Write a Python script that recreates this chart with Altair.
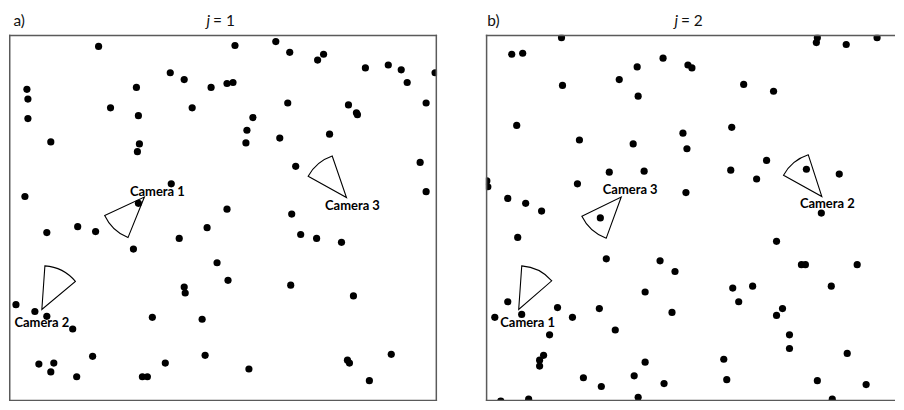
import altair as alt
import pandas as pd

# ---------------- data (panel-relative units, y measured from the top of the frame) --------
DOM_W_A, DOM_W_B, DOM_H = 430, 411, 376      # data extent shown in each panel
W_A, W_B, H = 430, 411, 368                  # plot sizes in px

# Panel a) j = 1 : animal positions
a_x = [90, 227, 268, 282, 310, 316, 358, 381, 394, 400, 428, 18, 19, 19, 162, 176, 128, 203,
       219, 225, 102, 184, 130, 280, 341, 349, 350, 419, 245, 239, 238, 272, 322, 42, 131, 129,
       288, 413, 419, 163, 16, 130, 219, 284, 38, 69, 87, 171, 199, 293, 309, 334, 125, 209,
       220, 176, 177, 283, 346, 7, 26, 38, 64, 144, 194, 30, 45, 42, 68, 84, 134, 139, 157,
       197, 241, 340, 342, 384, 362, 279]
a_y = [12, 11, 7, 18, 26, 20, 34, 31, 36, 49, 39, 56, 66, 86, 39, 46, 54, 54,
       50, 49, 75, 75, 83, 70, 72, 80, 82, 70, 85, 98, 111, 106, 102, 110, 112, 120,
       135, 131, 161, 153, 166, 173, 179, 184, 203, 197, 202, 209, 198, 205, 209, 213, 220, 234,
       252, 259, 265, 257, 268, 277, 284, 289, 302, 290, 292, 338, 337, 346, 351, 330, 351, 351, 337,
       329, 343, 334, 337, 328, 355, 379]

# Panel b) j = 2 : animal positions
b_x = [76, 26, 37, 178, 152, 203, 207, 134, 77, 153, 259, 289, 333, 332, 362, 393, 418, 31,
       94, 148, 198, 202, 247, 282, 246, 272, 322, 355, 124, 159, 92, 201, 1, 2, 22, 40, 56,
       115, 32, 337, 292, 415, 121, 175, 190, 317, 321, 373, 416, 160, 248, 268, 347, 254, 22,
       36, 9, 72, 87, 114, 187, 292, 298, 64, 130, 305, 305, 58, 54, 54, 160, 239, 363, 98,
       116, 149, 179, 242, 333, 382, 15, 43, 153, 348]
b_y = [3, 20, 19, 24, 33, 31, 34, 46, 52, 63, 51, 58, 3, 8, 10, 3, 8, 93,
       108, 112, 101, 117, 95, 129, 139, 148, 138, 143, 141, 140, 153, 162, 150, 156, 168, 173, 181,
       188, 208, 183, 212, 221, 230, 232, 243, 236, 236, 236, 244, 264, 260, 258, 258, 274, 274,
       287, 290, 280, 290, 281, 285, 288, 281, 308, 303, 308, 322, 329, 334, 340, 336, 333, 327, 352,
       361, 350, 358, 354, 355, 359, 376, 374, 372, 374]

# Cameras: apex position, start / end bearing of the field of view (deg, clockwise from north)
a_cam_name = ["Camera 1", "Camera 2", "Camera 3"]
a_cam_x = [136, 33, 339]
a_cam_y = [166.5, 282, 167]
a_cam_start = [202, 4, 299]
a_cam_end = [245, 50, 341]
a_lab_x = [149, 33, 345]
a_lab_y = [165, 300, 180]

b_cam_name = ["Camera 3", "Camera 2", "Camera 1"]
b_cam_x = [136, 337.5, 33]
b_cam_y = [166.5, 166, 282]
b_cam_start = [200, 299, 4]
b_cam_end = [244, 342, 49]
b_lab_x = [145, 343, 42]
b_lab_y = [163, 178, 300]

FONT = "Lato"
BORDER = "#5a5a5a"


def panel(px, py, cname, cx, cy, cs, ce, lx, ly, width, dom_w, letter, jnum, jx, right_edge):
    pts = pd.DataFrame({"x": px, "y": py})
    cams = pd.DataFrame({"name": cname, "cx": cx, "cy": cy, "start": cs, "end": ce,
                         "lx": lx, "ly": ly})
    xs = alt.Scale(domain=[0, dom_w], nice=False, zero=False)
    ys = alt.Scale(domain=[0, DOM_H], reverse=True, nice=False, zero=False)

    dots = alt.Chart(pts).mark_circle(size=52, color="black", opacity=1, clip=True).encode(
        x=alt.X("x:Q", scale=xs, axis=None),
        y=alt.Y("y:Q", scale=ys, axis=None),
    )
    wedges = alt.Chart(cams).mark_arc(
        radius=44, fillOpacity=0, stroke="black", strokeWidth=1.1
    ).encode(
        x=alt.X("cx:Q", scale=xs, axis=None),
        y=alt.Y("cy:Q", scale=ys, axis=None),
        theta=alt.Theta("start:Q", scale=alt.Scale(domain=[0, 360]), stack=None),
        theta2="end:Q",
    )
    labels = alt.Chart(cams).mark_text(
        font=FONT, fontSize=13, fontWeight="bold", color="black", align="center",
        baseline="alphabetic"
    ).encode(
        x=alt.X("lx:Q", scale=xs, axis=None),
        y=alt.Y("ly:Q", scale=ys, axis=None),
        text="name:N",
    )
    one = pd.DataFrame({"k": [0]})
    title_style = dict(font=FONT, fontSize=15.5, color="#111", baseline="alphabetic")
    t_letter = alt.Chart(one).mark_text(align="left", **title_style).encode(
        x=alt.value(letter[1]), y=alt.value(-9), text=alt.value(letter[0]))
    t_j = alt.Chart(one).mark_text(align="right", fontStyle="italic", **title_style).encode(
        x=alt.value(jx), y=alt.value(-9), text=alt.value("j"))
    t_eq = alt.Chart(one).mark_text(align="left", **title_style).encode(
        x=alt.value(jx + 3), y=alt.value(-9), text=alt.value(f"= {jnum}"))

    edge = dict(color=BORDER, strokeWidth=1.5)
    left = alt.Chart(one).mark_rule(**edge).encode(
        x=alt.value(0.75), y=alt.value(0), y2=alt.value(H))
    top = alt.Chart(one).mark_rule(**edge).encode(
        x=alt.value(0), x2=alt.value(width), y=alt.value(0.75))
    bottom = alt.Chart(one).mark_rule(**edge).encode(
        x=alt.value(0), x2=alt.value(width), y=alt.value(H - 0.75))
    layers = [dots, wedges, labels, t_letter, t_j, t_eq, left, top, bottom]
    if right_edge:
        right = alt.Chart(one).mark_rule(**edge).encode(
            x=alt.value(width - 0.75), y=alt.value(0), y2=alt.value(H))
        layers.append(right)
    return alt.layer(*layers).properties(
        width=width, height=H, view=alt.ViewBackground(strokeOpacity=0))


pa = panel(a_x, a_y, a_cam_name, a_cam_x, a_cam_y, a_cam_start, a_cam_end, a_lab_x, a_lab_y,
           W_A, DOM_W_A, ("a)", 4.5), 1, 202, True)
pb = panel(b_x, b_y, b_cam_name, b_cam_x, b_cam_y, b_cam_start, b_cam_end, b_lab_x, b_lab_y,
           W_B, DOM_W_B, ("b)", 1.5), 2, 193, False)

chart = alt.hconcat(pa, pb, spacing=47).properties(
    padding={"left": 0, "right": 0, "top": 5, "bottom": 0}
).configure(background="white").configure_view(strokeOpacity=0)

chart.save("out.html", embed_options={"renderer": "svg", "actions": False})
